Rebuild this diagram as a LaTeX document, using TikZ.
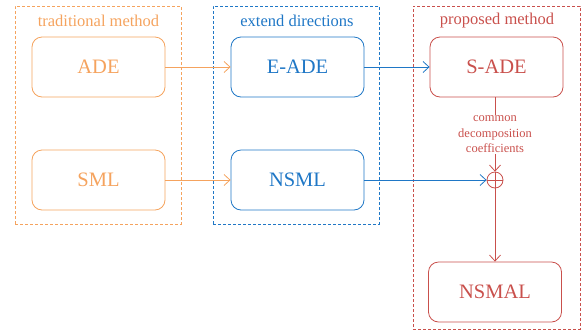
\documentclass[tikz,border=0pt]{standalone}
\usepackage{fontspec}
\setmainfont{Liberation Serif}
\usetikzlibrary{arrows.meta}
\definecolor{cor}{HTML}{F5A35E}
\definecolor{cbl}{HTML}{1F77C6}
\definecolor{crd}{HTML}{C9504C}
\begin{document}
\begin{tikzpicture}[x=1pt,y=-1pt,
  grp/.style={draw,dashed,line width=0.8pt,dash pattern=on 3pt off 2pt},
  blk/.style={draw,rounded corners=10pt,line width=0.8pt,minimum width=133pt,minimum height=60pt,font=\fontsize{20.5}{24}\selectfont,inner sep=0pt},
  ttl/.style={font=\fontsize{16.5}{19}\selectfont,inner sep=0pt},
  arr/.style={line width=0.8pt,-{Straight Barb[length=6pt,width=11pt]}}]
\useasboundingbox (0,0) rectangle (583,333);
% groups
\node[grp,cor,minimum width=166pt,minimum height=218pt,inner sep=0pt] (g1) at (98,115) {};
\node[grp,cbl,minimum width=166pt,minimum height=218pt,inner sep=0pt] (g2) at (296,115) {};
\node[grp,crd,minimum width=167pt,minimum height=323pt,inner sep=0pt] (g3) at (496.5,167.5) {};
\node[ttl,cor] (t1) at (98.5,21) {traditional method};
\node[ttl,cbl] (t2) at (297,21) {extend directions};
\node[ttl,crd] (t3) at (497,21) {proposed method};
% blocks
\node[blk,cor] (ade) at (98.5,67) {ADE};
\node[blk,cor] (sml) at (98.5,180) {SML};
\node[blk,cbl] (eade) at (297.5,67) {E-ADE};
\node[blk,cbl] (nsml) at (297.5,180) {NSML};
\node[blk,crd] (sade) at (496.5,67) {S-ADE};
\node[blk,crd] (nsmal) at (495,292) {NSMAL};
% oplus
\node[draw,crd,circle,minimum size=16pt,inner sep=0pt,line width=0.8pt] (op) at (495,180) {};
\draw[crd,line width=0.8pt] (op.north) -- (op.south) (op.west) -- (op.east);
\node[crd,align=center,font=\fontsize{12.5}{15.5}\selectfont,inner sep=1pt] (lab) at (495,134.5) {common\\decomposition\\coefficients};
% connectors
\draw[arr,cor] (ade) -- (eade);
\draw[arr,cor] (sml) -- (nsml);
\draw[arr,cbl] (eade) -- (sade);
\draw[arr,cbl] (nsml) -- (op);
\draw[crd,line width=0.8pt] (sade.south -| op) -- (lab.north);
\draw[arr,crd] (lab.south) -- (op.north);
\draw[arr,crd] (op.south) -- (nsmal.north -| op);
\end{tikzpicture}
\end{document}
